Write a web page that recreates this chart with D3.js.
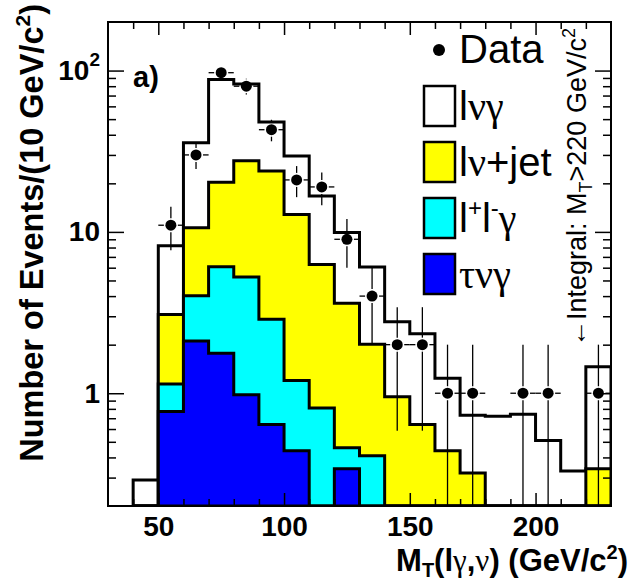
<!DOCTYPE html>
<html><head><meta charset="utf-8">
<script src="https://cdn.jsdelivr.net/npm/d3@7"></script>
<style>body{margin:0;background:#fff}svg{display:block}</style>
</head><body>
<svg id="c" width="631" height="580"></svg>
<script>
// ---- data ----
const binStart = [40,50,60,70,80,90,100,110,120,130,140,150,160,170,180,190,200,210,220];
const binWidth = 10;
const tvg   = [0,0.77,2.11,1.77,0.98,0.64,0.44,0,0.34,0,0,0,0,0,0,0,0,0,0];
const llg   = [0,0.37,1.91,4.32,4.27,2.23,0.76,0.81,0.12,0.41,0,0,0,0,0,0,0,0,0];
const lvjet = [0,1.94,6.58,14.2,22.4,21.0,11.6,5.48,3.15,1.60,0.95,0.64,0.44,0.32,0,0,0,0,0.34];
const lvg   = [0.29,5.12,25.1,67.7,55.0,24.1,16.7,10.4,6.29,4.05,1.82,1.70,0.80,0.41,0.72,0.74,0.51,0.33,1.12];
const dataCounts = [0,11,30,97,80,43,21,19,9,4,2,2,1,1,0,1,1,0,1];
const xMajorTicks = [50,100,150,200];
const xMinorTicks = [40,60,70,80,90,110,120,130,140,160,170,180,190,210,220];
const yMajorTicks = [1,10,100];
const yTickLabels = ["1","10","10^2"];
const yMinorTicks = [0.3,0.4,0.5,0.6,0.7,0.8,0.9,2,3,4,5,6,7,8,9,20,30,40,50,60,70,80,90];
const seriesKeys = ["tvg","llg","lvjet","lvg"];
const seriesColors = {tvg:"#0000ff", llg:"#00ffff", lvjet:"#ffff00", lvg:"#ffffff"};

// ---- layout ----
const frame = {left:108, right:611, top:22, bottom:506};
const SANS = "'Liberation Sans', Arial, Helvetica, sans-serif";
const SERIF = "'Liberation Serif', 'Times New Roman', serif";
const x = d3.scaleLinear().domain([30,230]).range([frame.left, frame.right]);
const y = d3.scaleLog().domain([0.2,200]).range([frame.bottom, frame.top]);
const svg = d3.select("#c");

svg.append("defs").append("clipPath").attr("id","fr")
  .append("rect").attr("x",frame.left-1).attr("y",frame.top).attr("width",frame.right-frame.left+2).attr("height",frame.bottom-frame.top+1);

const rows = binStart.map((b,i)=>({bin:b, tvg:tvg[i], llg:llg[i], lvjet:lvjet[i], lvg:lvg[i]}));
const stacked = d3.stack().keys(seriesKeys)(rows);
const yv = v => v > 0 ? Math.min(frame.bottom, y(v)) : frame.bottom;
function stepPath(layer){
  let p = `M${x(binStart[0])},${frame.bottom}`;
  layer.forEach((d,i)=>{
    const yy = yv(d[1]);
    p += `L${x(binStart[i])},${yy}L${x(binStart[i]+binWidth)},${yy}`;
  });
  p += `L${x(binStart[binStart.length-1]+binWidth)},${frame.bottom}Z`;
  return p;
}
const gH = svg.append("g").attr("clip-path","url(#fr)");
stacked.slice().reverse().forEach(layer=>{
  gH.append("path").attr("d", stepPath(layer))
    .attr("fill", seriesColors[layer.key]).attr("stroke","#000")
    .attr("stroke-width",3).attr("stroke-linejoin","miter");
});

// ---- data points ----
const gD = svg.append("g").attr("clip-path","url(#fr)").attr("stroke","#000").attr("stroke-width",1.3);
const gap = 7;
dataCounts.forEach((n,i)=>{
  if(n<=0) return;
  const cx = x(binStart[i]+binWidth/2), cy = y(n);
  const e = Math.sqrt(n);
  const up = y(n+e), lo = (n-e) > 0.2 ? y(n-e) : frame.bottom;
  if(cy-gap > up) gD.append("line").attr("x1",cx).attr("x2",cx).attr("y1",up).attr("y2",cy-gap);
  if(lo > cy+gap) gD.append("line").attr("x1",cx).attr("x2",cx).attr("y1",cy+gap).attr("y2",lo);
  gD.append("line").attr("x1",x(binStart[i])).attr("x2",cx-gap).attr("y1",cy).attr("y2",cy);
  gD.append("line").attr("x1",cx+gap).attr("x2",x(binStart[i]+binWidth)).attr("y1",cy).attr("y2",cy);
  gD.append("circle").attr("cx",cx).attr("cy",cy).attr("r",5.5).attr("fill","#000").attr("stroke","none");
});

// ---- axes ----
function styleAxis(g){ g.select(".domain").remove(); g.selectAll(".tick line").attr("stroke","#000").attr("stroke-width",1.5); }
svg.append("g").attr("transform",`translate(0,${frame.bottom})`)
  .call(d3.axisBottom(x).tickValues(xMajorTicks).tickSize(-13).tickPadding(10).tickFormat(d3.format("d")))
  .call(styleAxis)
  .call(g=>g.selectAll("text").attr("font-family",SANS).attr("font-weight","bold").attr("font-size",28).attr("fill","#000"));
svg.append("g").attr("transform",`translate(0,${frame.bottom})`)
  .call(d3.axisBottom(x).tickValues(xMinorTicks).tickSize(-7).tickFormat("")).call(styleAxis);
svg.append("g").attr("transform",`translate(0,${frame.top})`)
  .call(d3.axisTop(x).tickValues(xMajorTicks).tickSize(-13).tickFormat("")).call(styleAxis);
svg.append("g").attr("transform",`translate(0,${frame.top})`)
  .call(d3.axisTop(x).tickValues(xMinorTicks).tickSize(-7).tickFormat("")).call(styleAxis);

const yAx = svg.append("g").attr("transform",`translate(${frame.left},0)`)
  .call(d3.axisLeft(y).tickValues(yMajorTicks).tickSize(-16).tickPadding(8).tickFormat((d,i)=>""))
  .call(styleAxis);
yAx.selectAll(".tick text").each(function(d,i){
  const t = d3.select(this).attr("font-family",SANS).attr("font-weight","bold").attr("font-size",28).attr("fill","#000");
  const parts = yTickLabels[i].split("^");
  t.append("tspan").text(parts[0]);
  if(parts[1]) t.append("tspan").attr("font-size",19).attr("dy","-0.75em").text(parts[1]);
});
svg.append("g").attr("transform",`translate(${frame.left},0)`)
  .call(d3.axisLeft(y).tickValues(yMinorTicks).tickSize(-8).tickFormat(()=>"")).call(styleAxis);
svg.append("g").attr("transform",`translate(${frame.right},0)`)
  .call(d3.axisRight(y).tickValues(yMajorTicks).tickSize(-16).tickFormat(()=>"")).call(styleAxis);
svg.append("g").attr("transform",`translate(${frame.right},0)`)
  .call(d3.axisRight(y).tickValues(yMinorTicks).tickSize(-8).tickFormat(()=>"")).call(styleAxis);

// frame
svg.append("rect").attr("x",frame.left).attr("y",frame.top).attr("width",frame.right-frame.left)
  .attr("height",frame.bottom-frame.top).attr("fill","none").attr("stroke","#000").attr("stroke-width",2);

// ---- titles ----
const yt = svg.append("text").attr("transform","translate(43,4) rotate(-90)")
  .attr("text-anchor","end").attr("font-family",SANS).attr("font-weight","bold").attr("font-size",32.5).attr("fill","#000");
yt.append("tspan").text("Number of Events/(10 GeV/c");
yt.append("tspan").attr("font-size",21).attr("dy",-13).text("2");
yt.append("tspan").attr("dy",13).text(")");

const xt = svg.append("text").attr("x",628).attr("y",571).attr("text-anchor","end")
  .attr("font-family",SANS).attr("font-weight","bold").attr("font-size",31).attr("fill","#000");
xt.append("tspan").text("M");
xt.append("tspan").attr("font-size",20).attr("dy",6).text("T");
xt.append("tspan").attr("dy",-6).text("(l");
xt.append("tspan").attr("font-family",SERIF).attr("font-weight","normal").text("γ");
xt.append("tspan").text(",");
xt.append("tspan").attr("font-family",SERIF).attr("font-weight","normal").text("ν");
xt.append("tspan").text(") (GeV/c");
xt.append("tspan").attr("font-size",20).attr("dy",-12).text("2");
xt.append("tspan").attr("dy",12).text(")");

svg.append("text").attr("x",133).attr("y",87).attr("font-family",SANS).attr("font-weight","bold")
  .attr("font-size",29).attr("fill","#000").text("a)");

const it = svg.append("text").attr("transform","translate(586,347) rotate(-90)")
  .attr("font-family",SANS).attr("font-size",27).attr("fill","#000");
it.append("tspan").text("←Integral: M");
it.append("tspan").attr("font-size",18).attr("dy",6).text("T");
it.append("tspan").attr("dy",-6).text(">220 GeV/c");
it.append("tspan").attr("font-size",18).attr("dy",-11).text("2");

// ---- legend ----
const legend = svg.append("g").attr("font-family",SANS).attr("font-size",40).attr("fill","#000");
legend.append("circle").attr("cx",439).attr("cy",50).attr("r",6).attr("fill","#000");
legend.append("text").attr("x",459).attr("y",63).text("Data");
const legendItems = [
  {key:"lvg",   parts:[["l",0],["νγ",1]]},
  {key:"lvjet", parts:[["l",0],["ν",1],["+jet",0]]},
  {key:"llg",   parts:[["l",0],["+",2],["l",3],["-",2],["γ",4]]},
  {key:"tvg",   parts:[["τνγ",1]]}
];
legendItems.forEach((it,i)=>{
  const cy = 106 + i*56;
  legend.append("rect").attr("x",424).attr("y",cy-20).attr("width",31).attr("height",40)
    .attr("fill",seriesColors[it.key]).attr("stroke","#000").attr("stroke-width",2.5);
  const t = legend.append("text").attr("x",459).attr("y",cy+14);
  it.parts.forEach(([s,k])=>{
    const sp = t.append("tspan").text(s);
    if(k===1) sp.attr("font-family",SERIF);
    if(k===2) sp.attr("font-size",24).attr("dy",-16);
    if(k===3) sp.attr("dy",16);
    if(k===4) sp.attr("font-family",SERIF).attr("dy",16);
  });
});
</script>
</body></html>
